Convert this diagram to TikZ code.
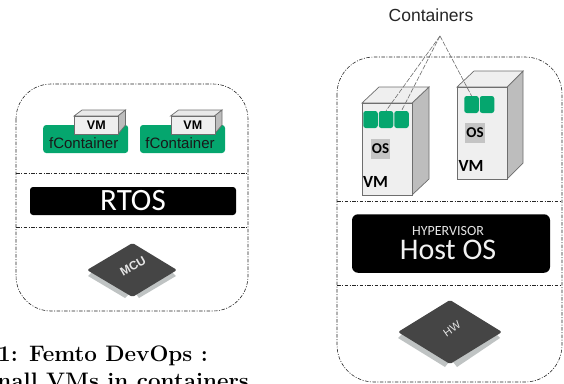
\documentclass[tikz,border=0pt]{standalone}
\usepackage{fontspec}
\setmainfont{Liberation Sans}
\newfontfamily\calib{Carlito}
\newfontfamily\capfont{Latin Modern Roman}
\definecolor{fgreen}{HTML}{05A66E}
\definecolor{boxf}{HTML}{EFEFEF}
\definecolor{boxs}{HTML}{BDBDBD}
\definecolor{boxt}{HTML}{E9E9E9}
\definecolor{edgeg}{HTML}{6E6E6E}
\definecolor{osg}{HTML}{C4C4C4}
\definecolor{chipd}{HTML}{454545}
\definecolor{chipl}{HTML}{BFC3C3}
\tikzset{
 frame/.style={draw=black!85,line width=0.6pt,dash pattern=on 3.5pt off 1.5pt on 1pt off 1.5pt},
 darkbar/.style={fill=black,rounded corners=3pt,text=white,inner sep=0pt},
 fcont/.style={fill=fgreen,rounded corners=3pt,inner sep=0pt,minimum width=85pt,minimum height=28pt},
 cell/.style={fill=fgreen,rounded corners=2.5pt,inner sep=0pt,minimum width=14.5pt,minimum height=17pt},
 vmface/.style={draw=edgeg,line width=0.7pt,fill=boxf},
 vmside/.style={draw=edgeg,line width=0.7pt,fill=boxs},
 lead/.style={draw=edgeg,line width=0.6pt,dash pattern=on 5pt off 1.5pt},
 oslabel/.style={fill=osg,inner sep=0pt,minimum width=19.5pt,minimum height=20.5pt,font=\calib\bfseries\fontsize{15}{15}\selectfont},
 bigvm/.style={font=\calib\bfseries\fontsize{17}{17}\selectfont},
 caplabel/.style={inner sep=0pt,font=\capfont\bfseries\fontsize{22.4}{22.4}\selectfont},
 fctext/.style={font=\fontsize{15}{15}\selectfont,text=black!90}
}
\begin{document}
\begin{tikzpicture}[x=1pt,y=-1pt]
\useasboundingbox (0,0) rectangle (564,383);
\clip (0,0) rectangle (564,383);
% left frame
\draw[frame,rounded corners=35pt] (16,84) rectangle (248,311);
\draw[frame] (16,173) -- (248,173);
\draw[frame] (16,227) -- (248,227);
% fContainers
\node[fcont] (fa) at (85.7,139) {};
\node[fcont] (fb) at (182.5,139) {};
\node[fctext] (fat) at (83.7,143) {fContainer};
\node[fctext] (fbt) at (180,143) {fContainer};
\foreach \x/\n in {74/a,170.5/b}{
 \draw[vmface,fill=boxt] (\x,116) -- (\x+8,110) -- (\x+51.5,110) -- (\x+44,116) -- cycle;
 \draw[vmside] (\x+44,116) -- (\x+51.5,110) -- (\x+51.5,125) -- (\x+44,134) -- cycle;
 \node[vmface,minimum width=44pt,minimum height=18pt,inner sep=0pt,anchor=north west,font=\bfseries\fontsize{12.5}{12.5}\selectfont] (vm\n) at (\x,116) {VM};
}
% RTOS
\node[darkbar,minimum width=206pt,minimum height=28pt,font=\calib\fontsize{31}{31}\selectfont] (rtos) at (133,201) {RTOS};
% MCU chip
\fill[chipl] (88,276) -- (92,272) -- (129,294) -- (125,298) -- cycle;
\fill[chipl] (176,276) -- (172,272) -- (136,294) -- (139,298) -- cycle;
\fill[chipd,rounded corners=1.5pt] (132.5,243) -- (177,270) -- (132.5,297) -- (87,270) -- cycle;
\node[rotate=30,text=white!90!black,font=\bfseries\fontsize{12}{12}\selectfont] (mcu) at (133,266) {MCU};
% caption
\node[anchor=base east,caplabel] (c1) at (208,361.7) {1: Femto DevOps :};
\node[anchor=base east,caplabel] (c2) at (249,388) {nall VMs in containers};
% right frame
\draw[frame,rounded corners=37pt] (337,57) rectangle (562,382);
\draw[frame] (337,201) -- (562,201);
\draw[frame] (337,285) -- (562,285);
% VM left
\draw[vmside] (412,103) -- (429,87) -- (429,179) -- (412,195) -- cycle;
\draw[vmface] (362,103) -- (379,87) -- (429,87) -- (412,103) -- cycle;
\node[vmface,minimum width=50pt,minimum height=92pt,inner sep=0pt,anchor=north west] (vl) at (362,103) {};
% VM right
\draw[vmside] (507,87) -- (523,71) -- (523,163) -- (507,179) -- cycle;
\draw[vmface] (457,87) -- (474,71) -- (523,71) -- (507,87) -- cycle;
\node[vmface,minimum width=50pt,minimum height=92pt,inner sep=0pt,anchor=north west] (vr) at (457,87) {};
% cells
\node[cell] (c11) at (370.5,119.5) {};
\node[cell] (c12) at (386,119.5) {};
\node[cell] (c13) at (401.5,119.5) {};
\node[cell] (c21) at (471.5,104.5) {};
\node[cell] (c22) at (487,104.5) {};
\node[oslabel] (os1) at (380.5,149) {OS};
\node[oslabel] (os2) at (475,133) {OS};
\node[bigvm] (v1) at (375.5,181.5) {VM};
\node[bigvm] (v2) at (471,165.5) {VM};
% containers
\node[font=\fontsize{17.5}{17.5}\selectfont,text=black!85] (cont) at (431,15) {Containers};
\coordinate (apex) at (440,36);
\draw[lead] (apex) -- (c12.north);
\draw[lead] (apex) -- (c13.north);
\draw[lead] (apex) -- (c21.north);
% host OS
\node[darkbar,rounded corners=6pt,minimum width=198pt,minimum height=58.5pt] (host) at (451,243.5) {};
\node[text=white!90!black,font=\calib\fontsize{14}{14}\selectfont] (hyp) at (448,231) {HYPERVISOR};
\node[text=white!95!black,font=\calib\fontsize{30}{30}\selectfont] (hos) at (448,250) {Host OS};
% HW chip
\fill[chipl] (398,338) -- (402,334) -- (449,362) -- (445,367) -- cycle;
\fill[chipl] (500,338) -- (496,334) -- (453,362) -- (457,367) -- cycle;
\fill[chipd,rounded corners=1.5pt] (450,300) -- (502,332) -- (450,364) -- (398,332) -- cycle;
\node[rotate=35,text=white!90!black,font=\fontsize{11}{11}\selectfont] (hw) at (452,329) {HW};
\end{tikzpicture}
\end{document}
